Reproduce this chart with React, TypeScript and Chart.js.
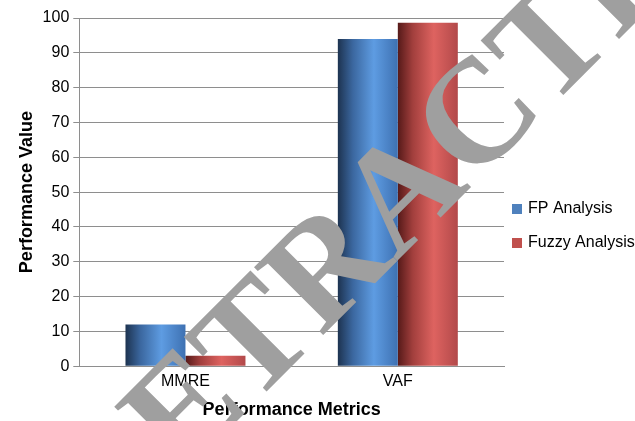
import React, { useEffect, useRef } from "react";
import { Chart, registerables } from "chart.js";

Chart.register(...registerables);

// ---- data ----
const categories = ["MMRE", "VAF"];
const seriesNames = ["FP Analysis", "Fuzzy Analysis"];
const fpAnalysis = [12, 94];
const fuzzyAnalysis = [3, 98.6];
const yMin = 0;
const yMax = 100;
const yStep = 10;
const xTitle = "Performance Metrics";
const yTitle = "Performance Value";
const watermarkText = "RETRACTED";

// ---- styles ----
const legendColors = ["#4f81bd", "#c0504d"];
const blueStops: [number, string][] = [
  [0, "#1d3350"],
  [0.25, "#3b679f"],
  [0.6, "#5e9ce2"],
  [1, "#3e71b2"],
];
const redStops: [number, string][] = [
  [0, "#561a19"],
  [0.25, "#a23f3d"],
  [0.6, "#de6360"],
  [1, "#b2494a"],
];
const CAT_PCT = 0.565;
const FONT = "'Liberation Sans', Arial, sans-serif";
const GRID = "#8e8e8e";

function cylinder(stops: [number, string][], fallback: string) {
  return (ctx: any) => {
    const chart = ctx.chart;
    const xs = chart.scales && chart.scales.x;
    if (!chart.chartArea || !xs || ctx.type !== "data") return fallback;
    const n = chart.data.labels.length;
    const nds = chart.data.datasets.length;
    const catW = xs.width / n;
    const groupW = catW * CAT_PCT;
    const barW = groupW / nds;
    const left = xs.getPixelForValue(ctx.dataIndex) - groupW / 2 + ctx.datasetIndex * barW;
    const g = chart.ctx.createLinearGradient(left, 0, left + barW, 0);
    stops.forEach(([o, c]) => g.addColorStop(o, c));
    return g;
  };
}

const sideLegend = {
  id: "sideLegend",
  afterDraw(chart: any) {
    const { ctx, chartArea } = chart;
    const x = chartArea.right + 8;
    let y = chartArea.top + 191;
    ctx.save();
    ctx.font = `16px ${FONT}`;
    ctx.textBaseline = "middle";
    ctx.textAlign = "left";
    chart.data.datasets.forEach((ds: any, i: number) => {
      ctx.fillStyle = legendColors[i];
      ctx.fillRect(x, y - 5, 10, 10);
      ctx.fillStyle = "#000";
      ctx.fillText(ds.label, x + 16, y);
      y += 34;
    });
    ctx.restore();
  },
};

const watermark = {
  id: "watermark",
  afterDraw(chart: any) {
    const { ctx } = chart;
    ctx.save();
    ctx.translate(407, 197);
    ctx.rotate((-45 * Math.PI) / 180);
    ctx.font = `bold 148px 'Liberation Serif', 'Times New Roman', serif`;
    ctx.textAlign = "center";
    ctx.textBaseline = "middle";
    ctx.fillStyle = "#9f9f9f";
    ctx.fillText(watermarkText, 0, 0);
    ctx.restore();
  },
};

export default function App() {
  const ref = useRef<HTMLCanvasElement | null>(null);

  useEffect(() => {
    document.body.style.margin = "0";
    if (!ref.current) return;
    const chart = new Chart(ref.current, {
      type: "bar",
      data: {
        labels: categories,
        datasets: [
          {
            label: seriesNames[0],
            data: fpAnalysis,
            backgroundColor: cylinder(blueStops, legendColors[0]),
            categoryPercentage: CAT_PCT,
            barPercentage: 1,
          },
          {
            label: seriesNames[1],
            data: fuzzyAnalysis,
            backgroundColor: cylinder(redStops, legendColors[1]),
            categoryPercentage: CAT_PCT,
            barPercentage: 1,
          },
        ],
      },
      options: {
        responsive: false,
        animation: false,
        layout: { padding: { left: 16, top: 18, right: 131, bottom: 0 } },
        plugins: {
          legend: { display: false },
          tooltip: { enabled: false },
        },
        scales: {
          x: {
            grid: { display: false, drawTicks: false },
            border: { display: true, color: GRID, width: 1 },
            ticks: { color: "#000", font: { family: FONT, size: 16 }, padding: 6 },
            title: {
              display: true,
              text: xTitle,
              color: "#000",
              font: { family: FONT, size: 18, weight: "bold" },
              padding: { top: 2, bottom: 0 },
            },
          },
          y: {
            min: yMin,
            max: yMax,
            grid: { color: GRID, lineWidth: 1, tickLength: 6, drawTicks: true },
            border: { display: true, color: GRID, width: 1 },
            ticks: {
              stepSize: yStep,
              color: "#000",
              font: { family: FONT, size: 16 },
              padding: 4,
            },
            title: {
              display: true,
              text: yTitle,
              color: "#000",
              font: { family: FONT, size: 18, weight: "bold" },
              padding: { top: 0, bottom: 1 },
            },
          },
        },
      },
      plugins: [sideLegend, watermark],
    });
    return () => chart.destroy();
  }, []);

  return (
    <div style={{ width: 635, height: 421, background: "#fff" }}>
      <canvas ref={ref} width={635} height={421} style={{ display: "block" }} />
    </div>
  );
}
